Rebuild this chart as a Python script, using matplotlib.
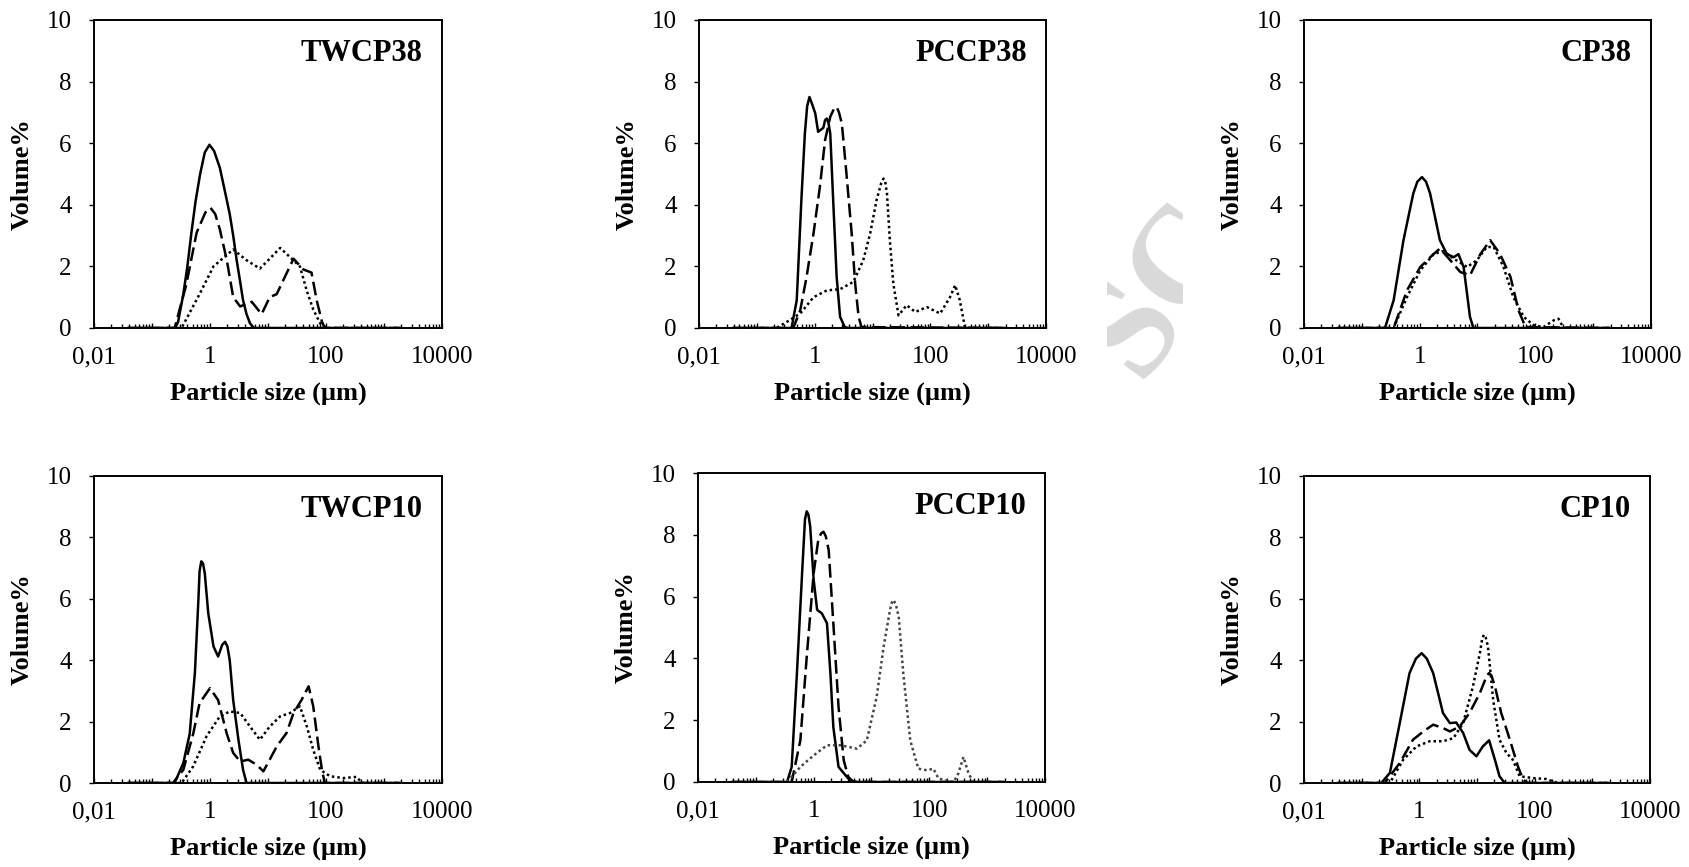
import numpy as np
import matplotlib.pyplot as plt
from matplotlib.ticker import FixedLocator, FixedFormatter, LogLocator, NullFormatter
from matplotlib.transforms import Bbox, TransformedBbox

plt.rcParams['font.family'] = 'Liberation Serif'

# Particle size distributions: x = log10(size in um), y = volume %
# order in every panel: solid, dashed, dotted

twcp38_solid_x = [-1.41, -0.60, -0.55, -0.46, -0.39, -0.32, -0.25, -0.17, -0.09, -0.01, 0.07, 0.17, 0.25, 0.34,
                  0.40, 0.46, 0.52, 0.57, 0.63, 0.69, 0.76, 3.28]
twcp38_solid_y = [0, 0, 0.2, 1.1, 2.0, 3.1, 4.1, 5.0, 5.7, 5.95, 5.75, 5.2, 4.5, 3.7,
                  3.0, 2.2, 1.5, 0.9, 0.45, 0.15, 0, 0]
twcp38_dash_x = [-1.41, -0.61, -0.41, -0.23, -0.08, 0.01, 0.09, 0.17, 0.29, 0.40, 0.52, 0.72, 0.89, 1.03, 1.15,
                 1.44, 1.61, 1.75, 1.84, 1.93, 1.98, 3.28]
twcp38_dash_y = [0, 0, 1.4, 3.1, 3.75, 3.9, 3.7, 3.2, 2.2, 1.0, 0.7, 0.85, 0.45, 1.0, 1.1,
                 2.25, 1.9, 1.8, 0.9, 0.2, 0, 0]
twcp38_dot_x = [-1.41, -0.49, -0.18, 0.06, 0.40, 0.63, 0.86, 1.03, 1.21, 1.38, 1.55, 1.67, 1.78, 1.90, 2.01, 3.28]
twcp38_dot_y = [0, 0, 1.1, 2.0, 2.55, 2.2, 1.93, 2.25, 2.6, 2.3, 2.0, 1.2, 0.6, 0.15, 0, 0]

pccp38_solid_x = [-1.41, -0.40, -0.31, -0.23, -0.17, -0.13, -0.09, -0.05, 0.01, 0.06, 0.15, 0.18, 0.21, 0.24,
                  0.27, 0.32, 0.38, 0.44, 0.52, 0.58, 3.28]
pccp38_solid_y = [0, 0, 0.9, 4.15, 6.3, 7.2, 7.5, 7.3, 6.97, 6.37, 6.5, 6.75, 6.8, 6.65,
                  6.3, 4.15, 1.66, 0.36, 0.03, 0, 0]
pccp38_dash_x = [-1.41, -0.37, -0.25, -0.14, -0.02, 0.09, 0.18, 0.27, 0.33, 0.38, 0.42, 0.47, 0.55, 0.64, 0.70,
                 0.76, 0.81, 3.28]
pccp38_dash_y = [0, 0, 0.57, 1.66, 3.07, 4.58, 6.1, 6.86, 7.1, 7.18, 7.0, 6.64, 5.0, 3.07, 1.44,
                 0.36, 0.03, 0]
pccp38_dot_x = [-1.41, -0.66, -0.48, -0.25, -0.02, 0.21, 0.44, 0.67, 0.84, 0.96, 1.07, 1.15, 1.19, 1.22, 1.25,
                1.30, 1.36, 1.45, 1.59, 1.74, 1.94, 2.17, 2.34, 2.43, 2.51, 2.60, 3.28]
pccp38_dot_y = [0, 0, 0.2, 0.47, 1.0, 1.22, 1.26, 1.5, 2.2, 3.07, 4.15, 4.7, 4.85, 4.75, 4.37,
                2.85, 1.44, 0.41, 0.74, 0.52, 0.68, 0.47, 1.0, 1.39, 0.9, 0, 0]

cp38_solid_x = [-1.41, -0.60, -0.45, -0.28, -0.11, -0.04, 0.04, 0.11, 0.18, 0.35, 0.47, 0.59, 0.67, 0.76, 0.82,
                0.87, 0.93, 3.28]
cp38_solid_y = [0, 0, 0.9, 2.85, 4.37, 4.75, 4.9, 4.75, 4.37, 2.85, 2.4, 2.3, 2.4, 1.98, 1.1,
                0.36, 0, 0]
cp38_dash_x = [-1.41, -0.45, -0.22, 0.01, 0.24, 0.35, 0.53, 0.70, 0.87, 1.05, 1.22, 1.39, 1.57, 1.71, 1.83, 3.28]
cp38_dash_y = [0, 0, 1.22, 1.98, 2.4, 2.58, 2.2, 1.82, 1.71, 2.4, 2.85, 2.4, 1.66, 0.57, 0.03, 0]
cp38_dot_x = [-1.41, -0.45, -0.22, 0.01, 0.24, 0.41, 0.59, 0.82, 0.99, 1.16, 1.28, 1.45, 1.62, 1.80, 1.97, 2.14,
              2.32, 2.40, 2.49, 3.28]
cp38_dot_y = [0, 0, 1.0, 1.87, 2.4, 2.5, 2.25, 1.98, 2.2, 2.63, 2.63, 1.98, 1.0, 0.36, 0.09, 0.03,
              0.25, 0.3, 0, 0]

twcp10_solid_x = [-1.41, -0.61, -0.46, -0.35, -0.26, -0.20, -0.18, -0.15, -0.12, -0.09, -0.03, 0.06, 0.14, 0.21,
                  0.26, 0.30, 0.34, 0.40, 0.49, 0.57, 0.63, 3.28]
twcp10_solid_y = [0, 0, 0.65, 1.6, 3.6, 5.97, 6.9, 7.22, 7.15, 6.83, 5.53, 4.45, 4.12, 4.5,
                  4.6, 4.45, 4.0, 2.7, 1.41, 0.43, 0, 0]
twcp10_dash_x = [-1.41, -0.64, -0.46, -0.29, -0.18, 0.00, 0.14, 0.29, 0.40, 0.52, 0.66, 0.80, 0.92, 1.03, 1.15,
                 1.32, 1.44, 1.58, 1.70, 1.78, 1.87, 1.93, 1.98, 3.28]
twcp10_dash_y = [0, 0, 0.43, 1.6, 2.6, 3.09, 2.7, 1.6, 0.98, 0.7, 0.76, 0.6, 0.38, 0.76, 1.19,
                 1.63, 2.28, 2.71, 3.15, 2.5, 1.19, 0.43, 0, 0]
twcp10_dot_x = [-1.41, -0.49, -0.29, -0.06, 0.17, 0.34, 0.52, 0.69, 0.86, 1.03, 1.21, 1.38, 1.55, 1.67, 1.78,
                1.90, 2.07, 2.30, 2.53, 2.62, 3.28]
twcp10_dot_y = [0, 0, 0.54, 1.52, 2.17, 2.33, 2.28, 1.84, 1.41, 1.84, 2.17, 2.28, 2.5, 1.84, 1.08,
                0.43, 0.22, 0.16, 0.2, 0, 0]

pccp10_solid_x = [-1.41, -0.46, -0.38, -0.29, -0.20, -0.15, -0.12, -0.09, -0.06, 0.00, 0.06, 0.14, 0.23, 0.29,
                  0.34, 0.43, 0.55, 0.63, 0.75, 3.28]
pccp10_solid_y = [0, 0, 0.49, 3.5, 6.76, 8.5, 8.76, 8.65, 8.27, 6.54, 5.57, 5.46, 5.14, 3.5,
                  1.78, 0.49, 0.22, 0.05, 0, 0]
pccp10_dash_x = [-1.41, -0.38, -0.23, -0.12, 0.00, 0.08, 0.13, 0.17, 0.21, 0.26, 0.34, 0.43, 0.52, 0.60, 0.69, 3.28]
pccp10_dash_y = [0, 0, 1.35, 4.05, 6.76, 7.84, 8.05, 8.1, 7.95, 7.5, 5.14, 2.43, 0.7, 0.16, 0, 0]
pccp10_dot_x = [-1.41, -0.46, -0.23, 0.00, 0.23, 0.46, 0.75, 0.92, 1.09, 1.21, 1.32, 1.35, 1.38, 1.42, 1.47,
                1.55, 1.67, 1.81, 1.96, 2.07, 2.16, 2.42, 2.50, 2.59, 2.68, 2.76, 3.28]
pccp10_dot_y = [0, 0, 0.49, 0.86, 1.19, 1.19, 1.08, 1.35, 2.76, 4.38, 5.57, 5.8, 5.89, 5.75, 5.35,
                3.51, 1.35, 0.43, 0.38, 0.43, 0.11, 0, 0.27, 0.81, 0.27, 0, 0]

cp10_solid_x = [-1.41, -0.66, -0.51, -0.34, -0.17, -0.06, 0.04, 0.13, 0.24, 0.41, 0.53, 0.64, 0.76, 0.87, 0.99,
                1.10, 1.21, 1.31, 1.39, 1.48, 3.28]
cp10_solid_y = [0, 0, 0.33, 1.95, 3.58, 4.05, 4.23, 4.05, 3.58, 2.28, 1.95, 1.97, 1.63, 1.08, 0.87,
                1.19, 1.39, 0.76, 0.22, 0, 0]
cp10_dash_x = [-1.41, -0.60, -0.34, -0.11, 0.07, 0.24, 0.41, 0.53, 0.70, 0.87, 1.05, 1.17, 1.21, 1.25, 1.31,
               1.42, 1.57, 1.71, 1.80, 1.88, 3.28]
cp10_dash_y = [0, 0, 0.65, 1.41, 1.68, 1.9, 1.79, 1.68, 1.84, 2.28, 2.93, 3.5, 3.58, 3.5, 3.15,
               2.28, 1.41, 0.54, 0.11, 0, 0]
cp10_dot_x = [-1.41, -0.51, -0.28, -0.05, 0.18, 0.41, 0.59, 0.76, 0.93, 1.05, 1.09, 1.12, 1.15, 1.19, 1.28,
              1.39, 1.51, 1.62, 1.74, 1.97, 2.20, 2.40, 3.28]
cp10_dot_y = [0, 0, 0.76, 1.19, 1.36, 1.36, 1.46, 1.95, 3.15, 4.23, 4.7, 4.83, 4.75, 4.45, 2.71,
              1.41, 0.98, 0.76, 0.22, 0.16, 0.13, 0, 0]

panel_names = ["TWCP38", "PCCP38", "CP38", "TWCP10", "PCCP10", "CP10"]
major_ticks = [0.01, 0.1, 1, 10, 100, 1000, 10000]
major_labels = ["0,01", "", "1", "", "100", "", "10000"]

panels = [
    (twcp38_solid_x, twcp38_solid_y, twcp38_dash_x, twcp38_dash_y, twcp38_dot_x, twcp38_dot_y),
    (pccp38_solid_x, pccp38_solid_y, pccp38_dash_x, pccp38_dash_y, pccp38_dot_x, pccp38_dot_y),
    (cp38_solid_x, cp38_solid_y, cp38_dash_x, cp38_dash_y, cp38_dot_x, cp38_dot_y),
    (twcp10_solid_x, twcp10_solid_y, twcp10_dash_x, twcp10_dash_y, twcp10_dot_x, twcp10_dot_y),
    (pccp10_solid_x, pccp10_solid_y, pccp10_dash_x, pccp10_dash_y, pccp10_dot_x, pccp10_dot_y),
    (cp10_solid_x, cp10_solid_y, cp10_dash_x, cp10_dash_y, cp10_dot_x, cp10_dot_y),
]

W, H = 1690, 867
# axes boxes in pixels: left, top, width, height
boxes = [(94, 20, 348, 308), (699, 20, 347, 308), (1304, 20, 347, 308),
         (94, 476, 348, 307), (698, 473, 347, 309), (1304, 476, 346, 307)]

fig = plt.figure(figsize=(W / 100, H / 100), dpi=100)

# faint watermark fragment between the middle and right columns
wm = fig.text(1165 / W, 1 - 290 / H, "SC", rotation=54, ha='center', va='center',
              fontsize=100, fontweight='bold', color='#d9d9d9', zorder=-1)
wm.set_clip_on(True)
wm.set_clip_box(TransformedBbox(Bbox([[1107 / W, 0], [1183 / W, 1]]), fig.transFigure))

for name, box, data in zip(panel_names, boxes, panels):
    l, t, w, h = box
    ax = fig.add_axes([l / W, 1 - (t + h) / H, w / W, h / H])
    sx, sy, dx, dy, ox, oy = data
    dot_color = '#444444' if name == "PCCP10" else 'black'
    ax.plot(10 ** np.array(sx), sy, color='black', lw=1.8, ls='-')
    ax.plot(10 ** np.array(dx), dy, color='black', lw=1.8, ls=(0, (5.5, 2.2)))
    ax.plot(10 ** np.array(ox), oy, color=dot_color, lw=1.8, ls=(0, (1, 1.2)))

    ax.set_xscale('log')
    ax.set_xlim(0.01, 10000)
    ax.set_ylim(0, 10)
    ax.xaxis.set_major_locator(FixedLocator(major_ticks))
    ax.xaxis.set_major_formatter(FixedFormatter(major_labels))
    ax.xaxis.set_minor_locator(LogLocator(base=10, subs=np.arange(2, 10), numticks=20))
    ax.xaxis.set_minor_formatter(NullFormatter())
    ax.set_yticks([0, 2, 4, 6, 8, 10])

    ax.tick_params(axis='x', which='major', direction='in', length=3.6, width=1, pad=13, labelsize=18)
    ax.tick_params(axis='x', which='minor', direction='in', length=2.9, width=1)
    ax.tick_params(axis='y', direction='out', length=3.6, width=1, pad=12.5, labelsize=18)
    for sp in ax.spines.values():
        sp.set_linewidth(1.4)

    ax.set_xlabel("Particle size (µm)", fontsize=19, fontweight='bold', labelpad=10)
    ax.set_ylabel("Volume%", fontsize=19, fontweight='bold', labelpad=9)
    ax.text(0.945, 0.89, name, transform=ax.transAxes, ha='right', va='center',
            fontsize=22, fontweight='bold')

plt.savefig("out.png", dpi=100)
